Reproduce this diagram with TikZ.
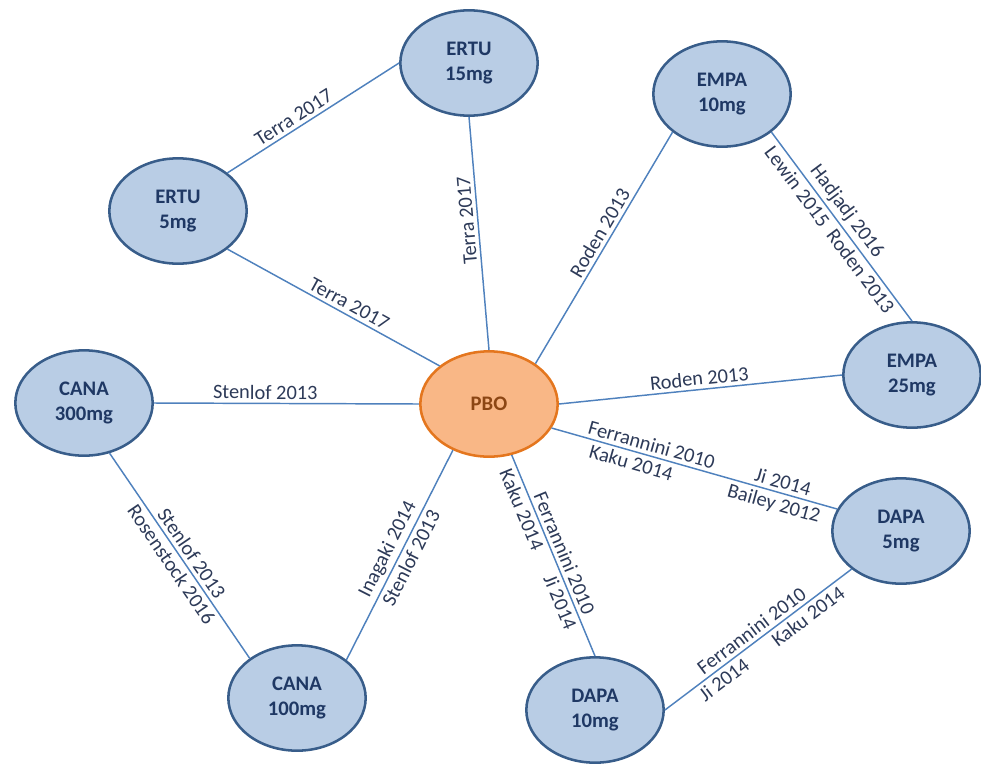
\documentclass[tikz,border=0pt]{standalone}
\usepackage{fontspec}
\setmainfont{Carlito}
\usetikzlibrary{shapes.geometric}
\definecolor{drugfill}{RGB}{185,205,229}
\definecolor{drugline}{RGB}{56,93,138}
\definecolor{drugtext}{RGB}{31,56,100}
\definecolor{pbofill}{RGB}{249,183,134}
\definecolor{pboline}{RGB}{228,118,30}
\definecolor{pbotext}{RGB}{140,70,20}
\definecolor{linkline}{RGB}{79,129,189}
\definecolor{studytext}{RGB}{45,58,88}

\begin{document}
\begin{tikzpicture}[x=0.75pt, y=-0.75pt,
	drug/.style={ellipse, draw=drugline, fill=drugfill, line width=1.9pt, minimum width=103pt, minimum height=79pt, inner sep=0pt, align=center, text=drugtext, font=\fontsize{15.5}{18.5}\selectfont\bfseries},
	placebo/.style={drug, draw=pboline, fill=pbofill, text=pbotext},
	link/.style={draw=linkline, line width=1.1pt},
	study/.style={sloped, inner sep=2.6pt, text=studytext, font=\fontsize{15.3}{18}\selectfont}]
				\useasboundingbox (0,0) rectangle (981,764);

				\node[placebo] (pbo) at (489,404) {PBO};

				\node[drug] (ertuA) at (178,211) {ERTU\\5mg};
				\node[drug] (ertuB) at (469,63) {ERTU\\15mg};
				\node[drug] (empaA) at (722,94) {EMPA\\10mg};
				\node[drug] (empaB) at (912,375) {EMPA\\25mg};
				\node[drug] (canaA) at (84,403) {CANA\\300mg};
				\node[drug] (canaB) at (297,698) {CANA\\100mg};
				\node[drug] (dapaA) at (901,531) {DAPA\\5mg};
				\node[drug] (dapaB) at (595,710) {DAPA\\10mg};

				\draw[link] (ertuA.north east) -- (ertuB.west)
					node[study, above, pos=0.42] {Terra 2017};
				\draw[link] (pbo.north) -- (ertuB.south)
					node[study, allow upside down, above, pos=0.56] {Terra 2017};
				\draw[link] (ertuA.south east) -- (pbo.north west)
					node[study, above, pos=0.55] {Terra 2017};

				\draw[link] (canaA.east) -- (pbo.west)
					node[study, above, pos=0.42] {Stenlof 2013};
				\draw[link] (canaA.-63) -- (canaB.140)
					node[study, above, pos=0.52] {Stenlof 2013}
					node[study, below, pos=0.51] {Rosenstock 2016};
				\draw[link] (canaB.north east) -- (pbo.-128)
					node[study, above, pos=0.5] {Inagaki 2014}
					node[study, below, pos=0.51] {Stenlof 2013};

				\draw[link] (pbo.41) -- (empaA.south west)
					node[study, above, pos=0.54] {Roden 2013};
				\draw[link] (empaA.south east) -- (empaB.north)
					node[study, above, pos=0.46] {Hadjadj 2016}
					node[study, below, pos=0.48] {Lewin 2015\ \ Roden 2013};
				\draw[link] (pbo.east) -- (empaB.west)
					node[study, above, pos=0.5] {Roden 2013};

				\draw[link] (pbo.-21) -- (dapaA.161)
					node[study, above, pos=0.34] {Ferrannini 2010}
					node[study, below, pos=0.29] {Kaku 2014}
					node[study, above, pos=0.80] {Ji 2014}
					node[study, below, pos=0.79] {Bailey 2012};
				\draw[link] (pbo.-66) -- (dapaB.north)
					node[study, above, pos=0.51] {Ferrannini 2010}
					node[study, below, pos=0.25] {Kaku 2014}
					node[study, below, pos=0.71] {Ji 2014};
				\draw[link] (dapaB.east) -- (dapaA.south west)
					node[study, above, pos=0.50] {Ferrannini 2010}
					node[study, below, pos=0.28] {Ji 2014}
					node[study, below, pos=0.73] {Kaku 2014};

			\end{tikzpicture}
\end{document}
